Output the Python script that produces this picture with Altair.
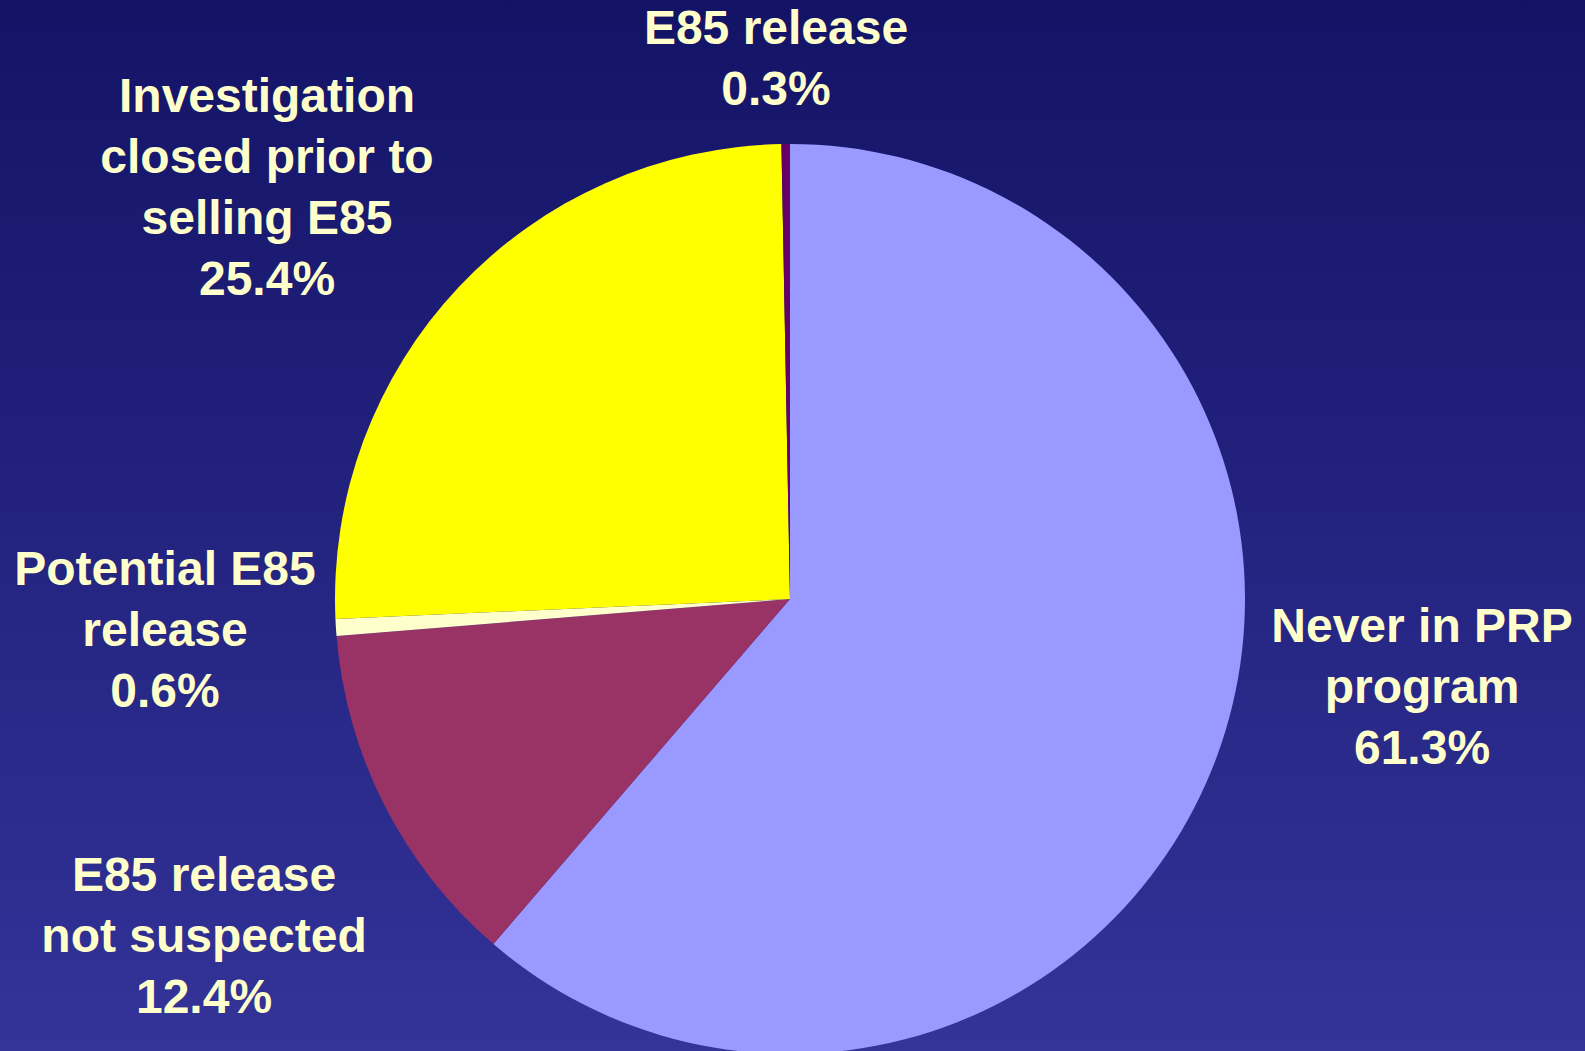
import altair as alt
import pandas as pd

categories = ["Never in PRP program", "E85 release not suspected", "Potential E85 release",
              "Investigation closed prior to selling E85", "E85 release"]
values = [61.3, 12.4, 0.6, 25.4, 0.3]
colors = ["#9999ff", "#993366", "#ffffcc", "#ffff00", "#660066"]
label_lines = [
    ["Never in PRP", "program", "61.3%"],
    ["E85 release", "not suspected", "12.4%"],
    ["Potential E85", "release", "0.6%"],
    ["Investigation", "closed prior to", "selling E85", "25.4%"],
    ["E85 release", "0.3%"],
]

# layout (label anchor = centre of first line, pixels)
W, H = 1585, 1051
CX, CY, R = 790, 599, 455
label_pos = [(1422, 628), (204, 877), (165, 571), (267, 98), (776, 30)]

df = pd.DataFrame({
    "category": categories,
    "value": values,
    "order": list(range(len(categories))),
})
lab = pd.DataFrame({
    "text": ["\n".join(l) for l in label_lines],
    "lx": [p[0] for p in label_pos],
    "ly": [p[1] for p in label_pos],
})

bg = alt.Chart(pd.DataFrame({"a": [0]})).mark_rect(
    fill=alt.Gradient(
        gradient="linear",
        stops=[alt.GradientStop(color="#131366", offset=0),
               alt.GradientStop(color="#333399", offset=1)],
        x1=0, x2=0, y1=0, y2=1,
    )
).encode(x=alt.value(0), x2=alt.value(W), y=alt.value(0), y2=alt.value(H))

pie = alt.Chart(df).mark_arc(radius=R, stroke=None).encode(
    theta=alt.Theta("value:Q", stack=True),
    order=alt.Order("order:Q"),
    color=alt.Color("category:N", scale=alt.Scale(domain=categories, range=colors), legend=None),
    x=alt.value(CX),
    y=alt.value(CY),
)

text = alt.Chart(lab).mark_text(
    font="Liberation Sans", fontWeight="bold", fontSize=48, color="#ffffcc",
    align="center", baseline="middle", lineBreak="\n", lineHeight=61,
).encode(
    x=alt.X("lx:Q", scale=alt.Scale(domain=[0, W], range=[0, W]), axis=None),
    y=alt.Y("ly:Q", scale=alt.Scale(domain=[0, H], range=[0, H]), axis=None),
    text="text:N",
)

chart = alt.layer(bg, pie, text).properties(
    width=W, height=H,
    autosize=alt.AutoSizeParams(type="none"),
    padding=0,
).configure_view(stroke=None).configure(background="#131366")

chart.save("out.html", embed_options={"renderer": "svg", "actions": False})
